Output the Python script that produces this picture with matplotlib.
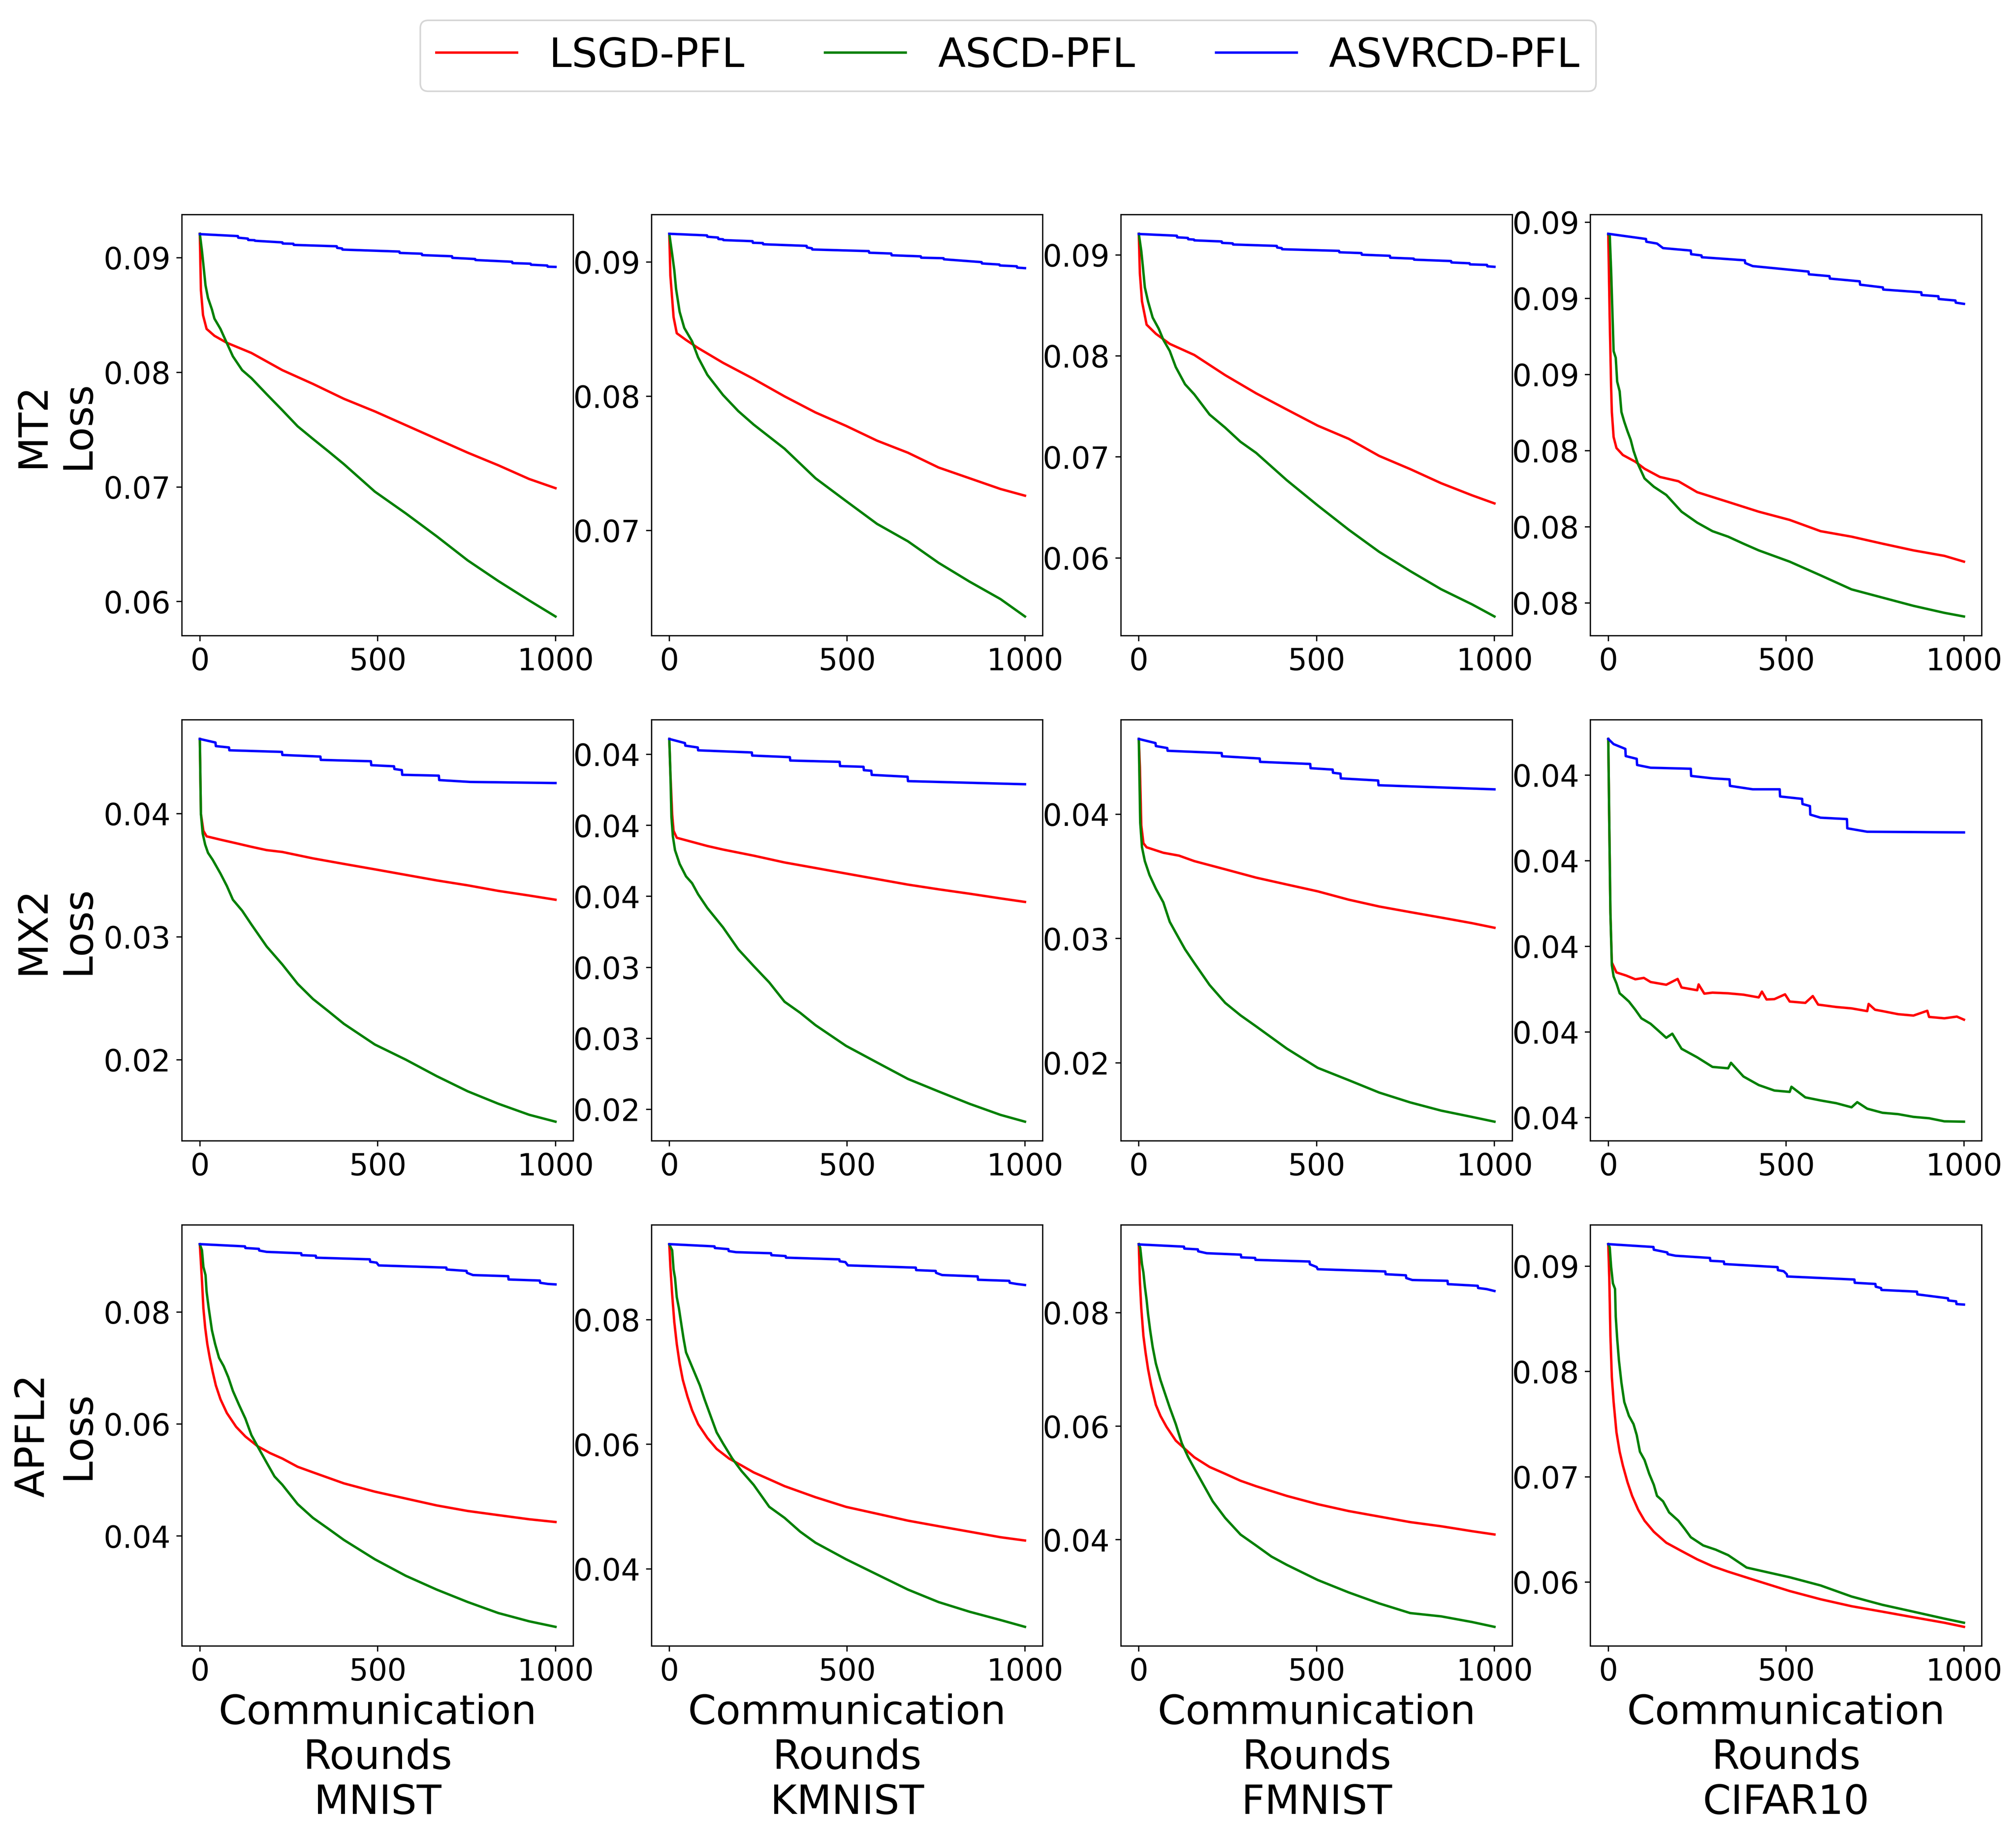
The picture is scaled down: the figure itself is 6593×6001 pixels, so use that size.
import matplotlib
matplotlib.use("Agg")
import matplotlib.pyplot as plt
from matplotlib.ticker import FormatStrFormatter

# loss curves as (round, loss) points
models = ["MT2", "MX2", "APFL2"]
datasets = ["MNIST", "KMNIST", "FMNIST", "CIFAR10"]
methods = ["LSGD-PFL", "ASCD-PFL", "ASVRCD-PFL"]
colors = ["red", "green", "blue"]

# ---------------- MT2 ----------------
mt2_mnist_lsgd = [(0, .0921), (3, .0872), (9, .0850), (19, .0838), (41, .0832), (75, .0826), (145, .0817),
                  (232, .0802), (318, .0790), (405, .0777), (492, .0766), (579, .0754), (666, .0742),
                  (753, .0730), (839, .0719), (926, .0707), (1000, .0699)]
mt2_mnist_ascd = [(0, .0921), (6, .0906), (10, .0894), (16, .0876), (23, .0865), (34, .0855), (41, .0847),
                  (58, .0838), (71, .0829), (93, .0814), (119, .0802), (145, .0795), (188, .0781),
                  (232, .0767), (275, .0753), (318, .0742), (362, .0731), (405, .0720), (492, .0696),
                  (579, .0677), (666, .0657), (753, .0636), (839, .0618), (926, .0601), (1000, .0587)]
mt2_mnist_asvrcd = [(0, .09207), (107, .0919), (108, .09176), (135, .09168), (136, .09156), (154, .09154),
                    (155, .09149), (232, .09135), (233, .09125), (263, .09123), (264, .09113), (385, .09101),
                    (386, .09087), (400, .09082), (401, .09072), (561, .09055), (562, .09043), (624, .09036),
                    (625, .09024), (709, .09014), (710, .09), (774, .0899), (775, .08981), (878, .08966),
                    (879, .08954), (930, .08949), (931, .0894), (977, .08933), (978, .08923), (1000, .08921)]

mt2_kmnist_lsgd = [(0, .0921), (3, .0890), (12, .0859), (21, .0847), (47, .0842), (81, .0836), (151, .0825),
                   (237, .0813), (324, .0800), (411, .0788), (497, .0778), (584, .0767), (671, .0758),
                   (757, .0747), (844, .0739), (931, .0731), (1000, .0726)]
mt2_kmnist_ascd = [(0, .0921), (8, .0906), (14, .0894), (19, .0880), (29, .0863), (42, .0851), (64, .0841),
                   (81, .0829), (107, .0816), (151, .0801), (194, .0789), (237, .0779), (324, .0761),
                   (411, .0739), (497, .0722), (584, .0705), (671, .0692), (757, .0676), (844, .0662),
                   (931, .0649), (1000, .0636)]
mt2_kmnist_asvrcd = [(0, .09211), (106, .09199), (107, .09189), (137, .09183), (138, .09172), (151, .0917),
                     (152, .09164), (234, .09156), (235, .09144), (263, .09142), (264, .09133), (386, .09121),
                     (387, .09109), (401, .09103), (402, .09094), (561, .09082), (562, .0907), (624, .09064),
                     (625, .09051), (707, .09043), (708, .09033), (771, .09029), (772, .09021), (878, .09),
                     (879, .0899), (928, .08982), (929, .08975), (977, .08969), (978, .08959), (1000, .08955)]

mt2_fmnist_lsgd = [(0, .0921), (3, .0882), (9, .0854), (22, .0831), (48, .0822), (87, .0812), (156, .0801),
                   (243, .0781), (330, .0763), (416, .0747), (503, .0731), (590, .0718), (676, .0701),
                   (763, .0688), (850, .0674), (937, .0662), (1000, .0654)]
mt2_fmnist_ascd = [(0, .0921), (7, .0904), (11, .0890), (17, .0868), (26, .0854), (39, .0838), (56, .0827),
                   (69, .0816), (87, .0805), (104, .0789), (130, .0772), (156, .0762), (199, .0742),
                   (243, .0729), (286, .0715), (330, .0704), (416, .0677), (503, .0652), (590, .0628),
                   (676, .0606), (763, .0587), (850, .0569), (937, .0554), (1000, .0542)]
mt2_fmnist_asvrcd = [(0, .09208), (107, .09191), (108, .09175), (138, .09169), (139, .09156), (155, .09153),
                     (156, .09145), (233, .09134), (234, .0912), (264, .09115), (265, .09104), (388, .0909),
                     (389, .09074), (402, .09068), (403, .09057), (563, .09041), (564, .09027), (626, .09019),
                     (627, .09003), (706, .08992), (707, .08973), (773, .08964), (774, .08954), (878, .0894),
                     (879, .08926), (930, .08918), (931, .08907), (979, .08902), (980, .08888), (1000, .08883)]

mt2_cifar10_lsgd = [(0, .0921), (4, .08936), (8, .08709), (10, .08627), (15, .08545), (23, .08509),
                    (41, .08486), (76, .08464), (102, .08441), (145, .08414), (197, .084), (250, .08364),
                    (337, .08332), (423, .083), (510, .08273), (597, .08236), (684, .08218), (771, .08195),
                    (858, .08173), (945, .08155), (1000, .08136)]
mt2_cifar10_ascd = [(0, .0921), (4, .0921), (8, .09091), (11, .08977), (15, .08827), (21, .08805),
                    (25, .08727), (32, .08695), (37, .08627), (45, .08595), (54, .08564), (63, .08536),
                    (71, .085), (84, .08455), (102, .08409), (128, .08382), (163, .08355), (206, .083),
                    (250, .08264), (293, .08236), (337, .08218), (380, .08195), (423, .08173), (510, .08136),
                    (597, .08091), (684, .08045), (771, .08018), (858, .07991), (945, .07968), (1000, .07956)]
mt2_cifar10_asvrcd = [(0, .09212), (106, .09195), (107, .09186), (137, .0918), (154, .09165), (232, .09157),
                      (233, .09145), (262, .09141), (263, .09135), (384, .09125), (385, .09116), (406, .09106),
                      (563, .09088), (564, .09079), (622, .09073), (623, .09065), (707, .09056), (708, .09045),
                      (772, .09036), (773, .09029), (880, .0902), (881, .09011), (928, .09007), (929, .08998),
                      (976, .08993), (977, .08986), (1000, .08982)]

# ---------------- MX2 ----------------
mx2_mnist_lsgd = [(0, .04607), (3, .0400), (10, .03861), (19, .03816), (58, .03789), (102, .0376),
                  (145, .03731), (188, .03704), (232, .03689), (318, .03637), (405, .03592), (492, .03548),
                  (579, .03503), (666, .03458), (753, .03418), (839, .03373), (926, .03335), (1000, .03301)]
mx2_mnist_ascd = [(0, .04607), (3, .0400), (8, .03839), (15, .03749), (23, .03682), (36, .03626), (58, .03514),
                  (76, .03413), (93, .03301), (119, .03212), (145, .031), (188, .02921), (232, .02775),
                  (275, .02618), (318, .02495), (362, .02394), (405, .02293), (492, .02125), (579, .02002),
                  (666, .01868), (753, .01745), (839, .01644), (926, .01554), (1000, .01498)]
mx2_mnist_asvrcd = [(0, .04607), (44, .04578), (45, .04549), (82, .04538), (83, .04515), (231, .04502),
                    (232, .04477), (339, .04464), (340, .04437), (481, .04426), (482, .04394), (546, .04385),
                    (547, .04363), (568, .04354), (569, .04316), (672, .04309), (673, .04273), (760, .04258),
                    (1000, .04249)]

mx2_kmnist_lsgd = [(0, .04609), (3, .0437), (8, .04078), (12, .03962), (21, .03913), (64, .03884),
                   (107, .03855), (151, .0383), (237, .03787), (324, .03739), (411, .037), (497, .03661),
                   (584, .03622), (671, .03583), (757, .0355), (844, .03519), (931, .03486), (1000, .03461)]
mx2_kmnist_ascd = [(0, .04609), (3, .0437), (6, .04059), (10, .03923), (16, .03826), (29, .03729), (47, .03641),
                   (64, .03593), (81, .03515), (107, .03418), (151, .03282), (194, .03127), (237, .0301),
                   (281, .02894), (324, .02758), (368, .0268), (411, .02593), (497, .02447), (584, .0233),
                   (671, .02214), (757, .02126), (844, .02039), (931, .01961), (1000, .01913)]
mx2_kmnist_asvrcd = [(0, .04609), (44, .0458), (45, .04562), (80, .04549), (81, .04529), (232, .04514),
                     (233, .04492), (339, .04481), (340, .04457), (479, .04448), (480, .04418), (546, .04413),
                     (547, .04389), (568, .04385), (569, .04356), (670, .04343), (671, .04312), (1000, .0429)]

mx2_fmnist_lsgd = [(0, .04605), (3, .0438), (7, .03911), (13, .03767), (22, .03734), (69, .0369),
                   (113, .03667), (156, .03623), (243, .03557), (330, .0349), (416, .03435), (503, .0338),
                   (590, .03313), (676, .03258), (763, .03213), (850, .03169), (937, .03124), (1000, .03087)]
mx2_fmnist_ascd = [(0, .04605), (4, .03933), (9, .03734), (17, .03623), (30, .03512), (48, .03401),
                   (69, .03291), (87, .03135), (104, .03047), (130, .02914), (156, .02804), (199, .02627),
                   (243, .02483), (286, .02383), (330, .02294), (373, .02205), (416, .02116), (503, .01961),
                   (590, .01862), (676, .01762), (763, .01683), (850, .01617), (937, .01566), (1000, .01528)]
mx2_fmnist_asvrcd = [(0, .04605), (47, .04572), (48, .04548), (80, .04532), (81, .0451), (233, .04492),
                     (234, .04466), (340, .04448), (341, .04421), (482, .04404), (483, .0437), (545, .04359),
                     (546, .04333), (567, .04326), (568, .04288), (673, .04271), (674, .04233), (1000, .042)]

mx2_cifar10_lsgd = [(0, .04606), (3, .04343), (6, .04099), (10, .03953), (23, .03924), (50, .03915),
                    (76, .03904), (100, .03908), (119, .03896), (163, .03888), (195, .03905), (206, .0388),
                    (250, .03872), (254, .03889), (270, .03862), (293, .03865), (337, .03863), (380, .03859),
                    (423, .03851), (432, .03868), (445, .03845), (467, .03846), (497, .0386), (510, .03839),
                    (554, .03835), (575, .03855), (590, .0383), (641, .03823), (684, .03819), (728, .03811),
                    (732, .03832), (750, .03815), (771, .03811), (815, .03802), (858, .03798), (897, .03812),
                    (902, .03794), (945, .0379), (980, .03795), (1000, .03786)]
mx2_cifar10_ascd = [(0, .04606), (3, .04343), (6, .04099), (10, .03945), (15, .03912), (23, .03892),
                    (32, .03863), (41, .03855), (58, .03839), (76, .03815), (93, .0379), (119, .03774),
                    (145, .0375), (163, .03733), (180, .03745), (206, .03701), (250, .03676), (293, .03648),
                    (337, .03644), (345, .0366), (380, .0362), (423, .03595), (467, .03579), (510, .03575),
                    (515, .0359), (554, .03559), (597, .0355), (641, .03542), (684, .0353), (700, .03545),
                    (728, .03526), (771, .03514), (815, .0351), (858, .03502), (902, .03498), (945, .03489),
                    (1000, .03488)]
mx2_cifar10_asvrcd = [(0, .04606), (15, .04591), (48, .04577), (49, .04556), (80, .04548), (81, .0453),
                      (119, .04522), (232, .04519), (233, .04498), (293, .04491), (341, .04488), (342, .04469),
                      (406, .04459), (482, .04459), (483, .04438), (545, .04431), (546, .04416), (567, .0441),
                      (568, .04385), (597, .04376), (671, .04372), (672, .04345), (728, .04335), (1000, .04333)]

# ---------------- APFL2 ----------------
apfl2_mnist_lsgd = [(0, .0921), (6, .08562), (10, .08069), (15, .07724), (21, .07429), (28, .07182),
                    (36, .06936), (45, .0669), (58, .06443), (76, .06197), (102, .05951), (128, .05778),
                    (162, .05606), (197, .05483), (232, .05384), (275, .05237), (318, .05138), (405, .04941),
                    (492, .04793), (579, .0467), (666, .04547), (753, .04448), (839, .04374), (926, .043),
                    (1000, .04251)]
apfl2_mnist_ascd = [(0, .0921), (6, .09103), (10, .08808), (16, .0866), (19, .08365), (25, .08069),
                    (34, .07675), (43, .07429), (54, .07182), (67, .07034), (80, .06837), (93, .06591),
                    (110, .06345), (128, .06098), (145, .05803), (162, .05606), (188, .0531), (210, .05064),
                    (232, .04916), (275, .04571), (318, .04325), (362, .04128), (405, .03931), (492, .03586),
                    (579, .03291), (666, .03044), (753, .02823), (839, .02626), (926, .02478), (1000, .02379)]
apfl2_mnist_asvrcd = [(0, .09212), (127, .09172), (128, .09143), (166, .09128), (167, .09098), (188, .09074),
                      (285, .09049), (286, .09015), (326, .09005), (327, .0897), (478, .08941), (479, .08897),
                      (497, .08882), (503, .08832), (693, .08793), (694, .08759), (750, .08734), (751, .087),
                      (768, .0866), (867, .0864), (868, .08581), (956, .08562), (957, .08522), (978, .08502),
                      (1000, .08493)]

apfl2_kmnist_lsgd = [(0, .0921), (3, .08851), (8, .08408), (14, .07965), (21, .0761), (29, .073),
                     (38, .07034), (51, .06768), (64, .06547), (81, .06325), (107, .06103), (133, .05927),
                     (168, .05772), (203, .05661), (237, .0555), (281, .05439), (324, .05329), (411, .05151),
                     (497, .04996), (584, .04886), (671, .04775), (757, .04686), (844, .04598), (931, .04509),
                     (1000, .04456)]
apfl2_kmnist_ascd = [(0, .0921), (8, .09116), (12, .08806), (16, .08673), (21, .08363), (27, .08186),
                     (34, .0792), (40, .07699), (47, .07477), (60, .073), (73, .07123), (86, .06946),
                     (99, .06724), (116, .06458), (133, .06193), (151, .06015), (177, .05772), (203, .05572),
                     (237, .05351), (281, .04997), (324, .0482), (368, .04598), (411, .04421), (497, .04155),
                     (584, .03911), (671, .03668), (757, .03468), (844, .03313), (931, .0318), (1000, .0307)]
apfl2_kmnist_asvrcd = [(0, .09214), (127, .09178), (128, .09152), (166, .09134), (167, .09103), (188, .09085),
                       (286, .09068), (287, .09037), (327, .09023), (328, .08997), (478, .0897), (479, .08939),
                       (495, .08926), (502, .08873), (693, .08837), (694, .08797), (749, .08784), (750, .08753),
                       (767, .08718), (867, .08696), (868, .08642), (956, .08625), (957, .08594), (975, .08576),
                       (1000, .08558)]

apfl2_fmnist_lsgd = [(0, .0921), (3, .08564), (7, .08078), (13, .07592), (19, .073), (26, .07009),
                     (35, .06717), (48, .06377), (61, .06182), (78, .0599), (104, .05747), (130, .05599),
                     (156, .05454), (199, .05283), (243, .05162), (286, .0504), (330, .04943), (416, .04773),
                     (503, .04627), (590, .04506), (676, .04409), (763, .04311), (850, .04238), (937, .04151),
                     (1000, .04093)]
apfl2_fmnist_ascd = [(0, .0921), (4, .09147), (9, .08855), (13, .0871), (17, .08467), (22, .08224),
                     (26, .07981), (32, .07689), (39, .07397), (48, .07106), (61, .06814), (74, .06571),
                     (87, .0633), (104, .06039), (121, .05699), (139, .05454), (156, .05259), (182, .04967),
                     (208, .04676), (243, .04384), (286, .04092), (330, .03898), (373, .03704), (416, .03558),
                     (503, .03291), (590, .03072), (676, .02878), (763, .02708), (850, .0265), (937, .0255),
                     (1000, .02465)]
apfl2_fmnist_asvrcd = [(0, .09205), (127, .09166), (128, .09132), (166, .09118), (167, .09084), (191, .0905),
                       (287, .09025), (288, .08977), (327, .08967), (328, .08933), (480, .08904), (481, .08855),
                       (500, .08807), (503, .08768), (693, .08729), (694, .0868), (751, .08661), (752, .08612),
                       (769, .08578), (868, .08564), (869, .08505), (953, .08476), (954, .08437), (978, .08418),
                       (1000, .08384)]

apfl2_cifar10_lsgd = [(0, .0921), (3, .08864), (6, .0834), (10, .07947), (15, .07711), (23, .07423),
                      (32, .07239), (41, .07108), (54, .0695), (67, .0682), (84, .06689), (102, .06584),
                      (128, .06479), (163, .06375), (206, .06296), (250, .06217), (293, .06152), (337, .061),
                      (423, .06008), (510, .05916), (597, .05838), (684, .05772), (771, .0572), (858, .05667),
                      (945, .05615), (1000, .05576)]
apfl2_cifar10_ascd = [(0, .0921), (4, .0918), (8, .08995), (13, .08838), (19, .08785), (21, .08523),
                      (25, .08314), (30, .08104), (37, .07894), (45, .07711), (58, .0758), (71, .07501),
                      (80, .07397), (89, .07239), (102, .0716), (115, .0703), (128, .06925), (137, .0682),
                      (154, .06768), (171, .06663), (197, .06584), (215, .06506), (232, .06427), (267, .06349),
                      (302, .06309), (337, .06257), (389, .06139), (423, .06113), (510, .06047), (597, .05969),
                      (684, .05864), (771, .05785), (858, .0572), (945, .05654), (1000, .05615)]
apfl2_cifar10_asvrcd = [(0, .0921), (127, .09183), (128, .09157), (166, .09131), (167, .09115), (189, .091),
                        (286, .09079), (287, .09052), (325, .09045), (326, .09021), (476, .08992), (477, .08963),
                        (493, .08953), (502, .08924), (503, .08903), (692, .08874), (693, .08843), (751, .08832),
                        (752, .08806), (767, .08793), (768, .08775), (868, .08759), (869, .08733), (955, .08696),
                        (956, .08675), (978, .08667), (979, .08641), (1000, .08636)]

panels = [
    [(mt2_mnist_lsgd, mt2_mnist_ascd, mt2_mnist_asvrcd),
     (mt2_kmnist_lsgd, mt2_kmnist_ascd, mt2_kmnist_asvrcd),
     (mt2_fmnist_lsgd, mt2_fmnist_ascd, mt2_fmnist_asvrcd),
     (mt2_cifar10_lsgd, mt2_cifar10_ascd, mt2_cifar10_asvrcd)],
    [(mx2_mnist_lsgd, mx2_mnist_ascd, mx2_mnist_asvrcd),
     (mx2_kmnist_lsgd, mx2_kmnist_ascd, mx2_kmnist_asvrcd),
     (mx2_fmnist_lsgd, mx2_fmnist_ascd, mx2_fmnist_asvrcd),
     (mx2_cifar10_lsgd, mx2_cifar10_ascd, mx2_cifar10_asvrcd)],
    [(apfl2_mnist_lsgd, apfl2_mnist_ascd, apfl2_mnist_asvrcd),
     (apfl2_kmnist_lsgd, apfl2_kmnist_ascd, apfl2_kmnist_asvrcd),
     (apfl2_fmnist_lsgd, apfl2_fmnist_ascd, apfl2_fmnist_asvrcd),
     (apfl2_cifar10_lsgd, apfl2_cifar10_ascd, apfl2_cifar10_asvrcd)],
]

fig, axes = plt.subplots(3, 4, figsize=(17.35, 15.7925))
plt.subplots_adjust(left=0.0903, right=0.983, top=0.883, bottom=0.103, wspace=0.2, hspace=0.2)

for i, model in enumerate(models):
    for j, ds in enumerate(datasets):
        ax = axes[i, j]
        for pts, c, name in zip(panels[i][j], colors, methods):
            xs = [p[0] for p in pts]
            ys = [p[1] for p in pts]
            ax.plot(xs, ys, color=c, lw=1.5, label=name)
        ax.yaxis.set_major_formatter(FormatStrFormatter('%.2f'))
        ax.tick_params(labelsize=18.7)
        if j == 0:
            ax.set_ylabel(model + "\nLoss", fontsize=25)
        if i == 2:
            ax.set_xlabel("Communication\nRounds\n" + ds, fontsize=25)

handles, labels = axes[0, 0].get_legend_handles_labels()
fig.legend(handles, labels, loc='upper center', bbox_to_anchor=(0.5, 1.0), ncol=3, fontsize=25)

# 380 dpi keeps the picture just under the 40 Mpx reader limit
fig.savefig("out.png", dpi=380)
